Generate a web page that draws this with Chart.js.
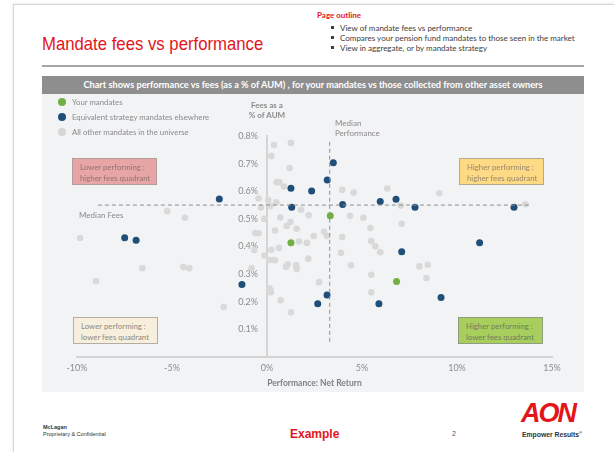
<!DOCTYPE html>
<html>
<head>
<meta charset="utf-8">
<script src="https://cdn.jsdelivr.net/npm/chart.js@4/dist/chart.umd.min.js"></script>
<style>
  html, body { margin: 0; padding: 0; background: #fff; }
  #page { position: relative; width: 614px; height: 452px; overflow: hidden; font-family: Lato, "Open Sans", sans-serif; }
  .abs { position: absolute; white-space: nowrap; }
  #frame { left: 13px; top: 4px; width: 610px; height: 470px; border: 1px solid #d6d6d6; box-shadow: 0 0 3px rgba(0,0,0,0.12); }
  #title { left: 42px; top: 33px; font-family: "Liberation Sans", Arial, sans-serif; font-size: 19px; color: #e3151b; transform: scaleX(0.88); transform-origin: left top; }
  #rule { left: 42px; top: 65px; width: 542px; height: 2px; background: #a6a6a6; }
  #outline { left: 317px; top: 10px; font-size: 8px; font-weight: bold; color: #e3151b; }
  .bul { left: 331px; font-size: 8px; color: #404040; }
  .bul span { display: inline-block; width: 3px; height: 3px; background: #404040; margin-right: 6px; vertical-align: middle; position: relative; top: -1px; }
  #bar { left: 42px; top: 76px; width: 542px; height: 18px; background: #8e8e8e; color: #fff; font-size: 9.2px; font-weight: bold; text-align: center; line-height: 18px; }
  #panel { left: 42px; top: 94px; width: 542px; height: 298px; background: #f2f3f5; }
  .leg { left: 58px; font-size: 7.8px; color: #8a8a8a; }
  .leg i { display: inline-block; width: 8px; height: 8px; border-radius: 50%; margin-right: 6px; vertical-align: middle; position: relative; top: -1px; }
  .lbl { font-size: 8px; color: #8a8a8a; line-height: 10px; }
  .box { font-size: 7.8px; line-height: 11px; padding: 3px 0 0 7px; box-sizing: border-box; width: 85px; height: 27px; }
  #cv { position: absolute; left: 0; top: 0; z-index: 1; }
  .top { z-index: 2; }
</style>
</head>
<body>
<div id="page">
  <div id="frame" class="abs"></div>
  <div id="outline" class="abs">Page outline</div>
  <div class="abs bul" style="top:23px"><span></span>View of mandate fees vs performance</div>
  <div class="abs bul" style="top:33px"><span></span>Compares your pension fund mandates to those seen in the market</div>
  <div class="abs bul" style="top:43px"><span></span>View in aggregate, or by mandate strategy</div>
  <div id="title" class="abs">Mandate fees vs performance</div>
  <div id="rule" class="abs"></div>
  <div id="bar" class="abs">Chart shows performance vs fees (as a % of AUM) , for your mandates vs those collected from other asset owners</div>
  <div id="panel" class="abs"></div>

  <div class="abs leg top" style="top:97px"><i style="background:#72b043"></i>Your mandates</div>
  <div class="abs leg top" style="top:112px"><i style="background:#1f4e79"></i>Equivalent strategy mandates elsewhere</div>
  <div class="abs leg top" style="top:127px"><i style="background:#d6d6d6"></i>All other mandates in the universe</div>

  <div class="abs lbl top" style="left:246px;top:100px;font-weight:bold;text-align:center;width:42px">Fees as a<br>% of AUM</div>
  <div class="abs lbl top" style="left:335px;top:118px">Median<br>Performance</div>
  <div class="abs lbl top" style="left:79px;top:210px">Median Fees</div>

  <div class="abs box top" style="left:72px;top:158px;background:#e8a5a5;border:1px solid #b39c9c;color:#8f7474">Lower performing :<br>higher fees quadrant</div>
  <div class="abs box top" style="left:459px;top:158px;background:#ffda85;border:1px solid #b5aa90;color:#96876a">Higher performing :<br>higher fees quadrant</div>
  <div class="abs box top" style="left:73px;top:317px;background:#f7efdc;border:1px solid #b3aea3;color:#8f8a80">Lower performing :<br>lower fees quadrant</div>
  <div class="abs box top" style="left:458px;top:317px;background:#a8cf5e;border:1px solid #8f9c80;color:#6f7d5c">Higher performing :<br>lower fees quadrant</div>

  <div class="abs" style="left:43px;top:424px;font-family:'Liberation Sans',Arial;font-size:5.5px;font-weight:bold;color:#333">McLagan</div>
  <div class="abs" style="left:43px;top:431px;font-family:'Liberation Sans',Arial;font-size:5.5px;color:#333">Proprietary &amp; Confidential</div>
  <div class="abs" style="left:290px;top:427px;font-family:'Liberation Sans',Arial;font-size:12px;font-weight:bold;color:#e3151b">Example</div>
  <div class="abs" style="left:452px;top:430px;font-family:'Liberation Sans',Arial;font-size:7px;color:#555">2</div>
  <div class="abs" style="left:521px;top:398px;font-family:'Liberation Sans',Arial;font-size:27px;font-weight:bold;font-style:italic;letter-spacing:-2px;color:#e3151b">AON</div>
  <div class="abs" style="left:522px;top:430px;font-family:'Liberation Sans',Arial;font-size:6.8px;font-weight:bold;color:#333">Empower Results<sup style="font-size:4px">®</sup></div>

  <canvas id="cv" width="614" height="452"></canvas>
</div>
<script>
// All other mandates in the universe (grey)
const otherPerf = [0.37, 1.26, 0.23, 1.19, 0.51, 0.65, 0.89, -0.44, 0.07, -0.32, 0.18, 0.49, -0.14, 0.70, 1.79, 2.19, 1.23, 1.04, 1.56, -0.62, -0.44, 0.42, 2.46, 3.0, 3.16, 3.96,
  -5.25, -4.32, -9.84, -6.56, -9.0, -4.40, -4.09, -2.28, -0.67, -0.14, -0.81, 0.11, 0.21, 0.17, 0.72, 1.26, 0.23, 0.63, 0.12, 0.42, 0.33, 1.09, 1.0, 1.54, 1.56, 1.68, 2.1, 2.17,
  3.89, 2.74, 4.56, 6.33, 9.07, 7.04, 4.37, 5.07, 5.44, 7.09, 3.96, 5.49, 5.70, 5.96, 4.42, 8.02, 8.46, 5.49, 8.39, 5.49, 13.6];
const otherFees = [0.767, 0.775, 0.728, 0.684, 0.633, 0.633, 0.617, 0.574, 0.568, 0.541, 0.547, 0.560, 0.500, 0.505, 0.533, 0.513, 0.489, 0.474, 0.464, 0.449, 0.448, 0.458, 0.438, 0.453, 0.438, 0.605,
  0.528, 0.504, 0.431, 0.321, 0.275, 0.326, 0.321, 0.181, 0.387, 0.367, 0.321, 0.249, 0.234, 0.243, 0.205, 0.162, 0.388, 0.395, 0.351, 0.350, 0.351, 0.336, 0.327, 0.333, 0.319, 0.418, 0.413, 0.356,
  0.377, 0.271, 0.595, 0.610, 0.593, 0.548, 0.511, 0.504, 0.467, 0.482, 0.434, 0.420, 0.401, 0.379, 0.332, 0.328, 0.334, 0.298, 0.286, 0.234, 0.553];

// Equivalent strategy mandates elsewhere (blue)
const equivPerf = [3.49, 3.17, 1.26, 2.35, 1.30, 3.98, -2.51, -7.49, -6.89, -1.32, 3.16, 2.67, 5.96, 6.79, 7.79, 7.09, 5.89, 9.16, 11.19, 13.0];
const equivFees = [0.703, 0.641, 0.611, 0.601, 0.542, 0.552, 0.572, 0.432, 0.423, 0.262, 0.224, 0.193, 0.563, 0.571, 0.542, 0.381, 0.193, 0.215, 0.414, 0.542];

// Your mandates (green)
const yourPerf = [3.33, 1.26, 6.82];
const yourFees = [0.511, 0.414, 0.273];

// Medians and reference line extents
const medianFee = 0.55;
const medianPerf = 3.3;
const medianFeeSpan = [-8.9, 13.85];
const medianPerfSpan = [0.055, 0.785];

const xTicks = [-10, -5, 0, 5, 10, 15];
const yTicks = [0.1, 0.2, 0.3, 0.4, 0.5, 0.6, 0.7, 0.8];

const pts = (xs, ys) => xs.map((x, i) => ({x: x, y: ys[i]}));
const grey = '#8c8c8c';

new Chart(document.getElementById('cv'), {
  type: 'scatter',
  data: {
    datasets: [
      {
        type: 'line', label: 'Median Fees',
        data: medianFeeSpan.map(x => ({x: x, y: medianFee})),
        borderColor: '#8f8f8f', borderWidth: 1, borderDash: [4, 3], pointRadius: 0
      },
      {
        type: 'line', label: 'Median Performance',
        data: medianPerfSpan.map(y => ({x: medianPerf, y: y})),
        borderColor: '#8f8f8f', borderWidth: 1, borderDash: [4, 3], pointRadius: 0
      },
      {
        label: 'All other mandates in the universe',
        data: pts(otherPerf, otherFees),
        backgroundColor: '#d9d9d9', borderWidth: 0, pointRadius: 3.3
      },
      {
        label: 'Equivalent strategy mandates elsewhere',
        data: pts(equivPerf, equivFees),
        backgroundColor: '#1f4e79', borderWidth: 0, pointRadius: 3.5
      },
      {
        label: 'Your mandates',
        data: pts(yourPerf, yourFees),
        backgroundColor: '#72b043', borderWidth: 0, pointRadius: 3.5
      }
    ]
  },
  options: {
    responsive: false,
    animation: false,
    layout: { padding: { left: 77, right: 62, top: 136, bottom: 60 } },
    plugins: { legend: { display: false }, tooltip: { enabled: false } },
    scales: {
      x: {
        type: 'linear', min: xTicks[0], max: xTicks[xTicks.length - 1],
        afterBuildTicks: s => { s.ticks = xTicks.map(v => ({value: v})); },
        afterFit: s => { s.height = 35; },
        grid: { display: false, drawTicks: false },
        border: { display: true, color: '#d4d4d4', width: 2 },
        ticks: { color: grey, padding: 6, font: { family: 'Lato', size: 9 }, callback: v => v + '%' },
        title: { display: true, text: 'Performance: Net Return', color: '#7f7f7f', padding: 4, font: { family: 'Lato', size: 8.5, weight: 'bold' } }
      },
      y: {
        type: 'linear', min: 0, max: yTicks[yTicks.length - 1],
        position: { x: 0 },
        afterBuildTicks: s => { s.ticks = [0].concat(yTicks).map(v => ({value: v})); },
        grid: { display: false, drawTicks: false },
        border: { display: true, color: '#d4d4d4', width: 2 },
        // labels of an axis placed at x = 0 sit flush on the line, so pad them with two en spaces
        ticks: { color: grey, font: { family: 'Lato', size: 9 }, callback: v => v === 0 ? '' : v.toFixed(1) + '%\u2002\u2002' }
      }
    }
  }
});
</script>
</body>
</html>
